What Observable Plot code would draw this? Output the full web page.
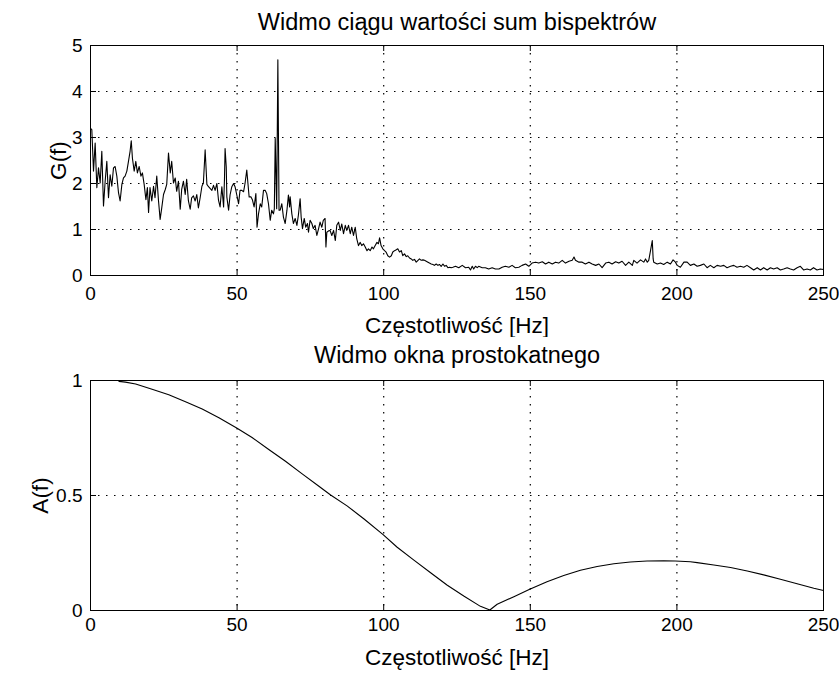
<!DOCTYPE html>
<html><head><meta charset="utf-8">
<script src="https://cdn.jsdelivr.net/npm/d3@7"></script>
<script src="https://cdn.jsdelivr.net/npm/@observablehq/plot@0.6"></script>
<style>
body{margin:0;background:#fff;}
#chart{position:relative;width:839px;height:675px;overflow:hidden;}
#chart svg{position:absolute;left:0;}
</style></head><body><div id="chart"></div>
<script>
// ---- data ----
const titleTop = "Widmo ciągu wartości sum bispektrów";
const titleBottom = "Widmo okna prostokatnego";
const xLabel = "Częstotliwość [Hz]";
const yLabelTop = "G(f)";
const yLabelBottom = "A(f)";

const xTicks = [0, 50, 100, 150, 200, 250];
const yTicksTop = [0, 1, 2, 3, 4, 5];
const yTicksBottom = [0, 0.5, 1];
const gridXValues = [50, 100, 150, 200];
const gridYTop = [1, 2, 3, 4];
const gridYBottom = [0.5];

const freqTop = [
0,0.45,1.02,1.59,2.16,2.73,3.3,3.86,4.43,5.0,5.57,6.14,6.7,7.27,7.84,8.4,8.98,9.55,10.1,10.7,
11.25,11.8,12.4,12.95,13.5,13.9,14.3,14.9,15.45,16.0,16.6,17.2,17.7,18.3,18.9,19.4,19.8,20.3,20.9,21.5,
22.0,22.6,23.2,23.75,24.3,24.9,25.5,26.0,26.6,27.2,27.7,28.3,28.9,29.4,30.0,30.6,31.1,31.7,32.3,32.8,
33.4,34.0,34.5,35.1,35.7,36.25,36.8,37.4,38.0,38.5,39.1,39.7,40.25,
41.4,41.95,42.5,43.1,43.65,44.2,44.8,45.4,45.7,45.9,46.3,46.5,47.1,47.6,48.2,48.8,49.3,49.9,50.5,51.0,
51.6,52.2,52.7,53.3,53.7,54.1,54.7,55.25,55.8,56.4,56.8,57.3,57.9,58.4,59.0,59.6,60.1,60.7,61.3,61.8,
62.4,62.7,63.0,63.5,63.9,64.3,64.7,65.25,65.8,66.4,67.0,67.5,67.9,68.1,68.67,69.2,69.8,70.4,70.9,71.5,
71.85,72.3,72.9,73.4,74.0,74.35,74.9,75.5,76.0,76.6,77.2,77.8,78.3,78.9,79.4,80.0,80.3,80.6,81.2,
81.7,82.3,82.9,83.5,84.0,84.6,85.2,85.7,86.3,86.9,87.4,88.0,88.6,89.1,89.7,90.3,90.8,91.4,92.0,92.5,
93.1,93.7,94.3,94.8,95.4,96.0,96.5,97.1,97.7,98.2,98.6,99.1,99.7,100.3,100.8,101.4,102.0,102.6,103.1,103.7,
104.3,104.8,105.4,106.0,106.5,107.1,107.7,108.2,108.8,109.4,109.9,110.5,111.1,111.7,112.2,112.8,113.4,113.9,114.5,115.1,
115.6,116.2,116.8,117.3,117.9,118.5,119.0,119.6,120.2,120.8,121.3,121.9,122.5,123.0,123.6,
124.5,125.6,126.8,127.9,129.0,129.6,130.2,130.7,131.3,131.9,132.4,133.6,134.7,135.8,137.0,138.1,139.3,140.4,141.5,142.7,
143.8,144.9,146.1,147.2,148.4,149.5,150.6,151.8,152.9,154.1,155.2,156.3,157.5,158.6,159.7,160.9,162.0,163.2,164.3,164.9,
165.4,166.6,167.7,168.8,170.0,171.1,172.3,173.4,174.5,175.7,176.8,177.9,179.1,180.2,181.3,182.5,183.6,184.8,
185.3,186.4,187.6,188.7,189.3,189.9,190.4,191.0,191.6,191.9,192.1,193.3,194.4,195.5,196.7,197.8,198.7,199.5,200.1,201.2,
202.4,203.5,204.6,205.8,206.9,208.0,209.2,210.3,211.4,212.6,213.7,214.9,216.0,217.1,218.3,219.4,220.5,221.7,222.8,223.9,
225.1,226.2,227.4,228.5,229.6,230.8,231.9,233.0,234.2,235.3,236.4,237.6,238.7,239.8,241.0,242.1,243.2,244.4,245.5,246.6,
247.8,248.9,250
];
const gTop = [
3.2,3.17,2.27,2.88,1.91,2.34,2.01,2.70,1.51,2.05,2.48,1.69,2.19,1.94,2.34,2.37,2.16,1.80,1.62,1.98,
2.12,2.16,2.27,2.48,2.70,2.93,2.55,2.27,2.48,2.23,2.37,2.16,2.23,1.98,1.65,1.91,1.37,1.91,1.62,1.94,
1.69,2.16,1.62,1.22,1.47,1.76,1.87,1.98,2.66,2.23,2.48,2.01,2.12,1.83,2.05,1.44,1.87,2.05,1.76,2.09,
1.62,1.44,1.69,1.73,1.62,1.76,1.47,1.69,1.94,2.01,2.73,1.98,1.93,
1.85,1.96,1.85,2.0,1.64,1.49,1.93,1.49,2.11,2.76,2.36,1.71,1.42,1.75,1.93,2.0,1.93,1.75,1.56,1.85,
1.85,1.82,2.0,2.29,2.0,1.71,1.71,1.64,1.49,1.78,1.05,1.34,1.56,1.49,1.85,1.85,1.78,1.56,1.2,1.42,
1.34,1.45,2.98,1.45,4.69,1.42,1.42,1.56,1.27,1.13,1.42,1.75,1.49,1.71,1.34,1.13,1.24,1.09,1.31,1.67,
1.27,1.02,1.24,1.05,1.13,0.94,1.2,1.13,1.02,1.09,0.87,1.02,1.16,1.05,1.2,1.24,0.62,0.94,0.97,
0.98,0.87,0.98,0.76,1.09,1.16,0.98,1.12,0.91,1.09,0.98,1.09,0.91,1.05,0.87,1.05,0.8,0.65,0.72,0.65,
0.69,0.62,0.54,0.58,0.54,0.62,0.58,0.65,0.72,0.69,0.82,0.65,0.58,0.54,0.51,0.43,0.40,0.43,0.51,0.54,
0.56,0.58,0.51,0.54,0.43,0.47,0.41,0.43,0.38,0.36,0.33,0.35,0.29,0.33,0.36,0.33,0.34,0.33,0.31,0.29,
0.27,0.25,0.24,0.22,0.25,0.22,0.24,0.20,0.25,0.2,0.22,0.17,0.18,0.17,0.18,
0.2,0.17,0.22,0.17,0.18,0.12,0.2,0.14,0.2,0.17,0.2,0.17,0.17,0.14,0.17,0.14,0.14,0.18,0.2,0.18,
0.22,0.17,0.18,0.22,0.25,0.2,0.27,0.29,0.27,0.30,0.25,0.29,0.25,0.29,0.27,0.33,0.27,0.31,0.33,0.40,
0.33,0.29,0.29,0.25,0.29,0.25,0.22,0.25,0.17,0.27,0.29,0.25,0.30,0.27,0.31,0.22,0.29,0.22,
0.33,0.27,0.34,0.29,0.36,0.29,0.33,0.54,0.76,0.36,0.29,0.25,0.27,0.24,0.29,0.25,0.34,0.29,0.22,0.18,
0.29,0.29,0.22,0.25,0.2,0.22,0.25,0.17,0.22,0.17,0.22,0.2,0.22,0.17,0.2,0.22,0.18,0.2,0.18,0.22,
0.17,0.12,0.17,0.12,0.17,0.12,0.17,0.14,0.17,0.12,0.14,0.17,0.14,0.12,0.17,0.2,0.12,0.14,0.12,0.17,
0.12,0.14,0.13
];

const freqBottom = [9.7,11.9,15.4,21.0,26.7,32.4,38.1,43.8,50.0,55.1,60.8,66.5,72.2,77.9,81.9,87.5,93.3,99.8,
104.6,110.3,116.0,121.7,127.3,133.0,136.2,138.7,144.4,149.8,155.7,161.4,167.1,172.8,178.5,184.1,189.8,195.5,
199.4,204.6,206.9,212.6,218.3,224.0,229.6,235.3,241.0,246.7,250];
const aBottom = [0.996,0.993,0.985,0.962,0.938,0.908,0.876,0.838,0.792,0.752,0.700,0.649,0.594,0.540,0.502,0.455,0.398,0.330,
0.275,0.219,0.164,0.110,0.063,0.018,0.002,0.027,0.060,0.092,0.125,0.152,0.175,0.191,0.203,0.211,0.215,0.216,
0.215,0.212,0.208,0.198,0.187,0.172,0.155,0.136,0.116,0.097,0.087];

// ---- drawing ----
const FONT = "'Liberation Sans', Arial, Helvetica, sans-serif";
const topRows = freqTop.map((f, i) => ({f, v: gTop[i]}));
const bottomRows = freqBottom.map((f, i) => ({f, v: aBottom[i]}));

function panel({rows, yDomain, yTicks, gridY, title, yLabel, height, marginTop, marginBottom, tickPad, titleDy, xLabelDy, yLabelDx}) {
  const marginLeft = 90, marginRight = 16, width = 839;
  const fw = width - marginLeft - marginRight;
  const fh = height - marginTop - marginBottom;
  const tick = 6;
  const dotted = {stroke: "#000", strokeWidth: 1.2, strokeDasharray: "1.5,6.5"};
  return Plot.plot({
    width, height, marginTop, marginBottom, marginLeft, marginRight,
    style: {fontFamily: FONT, fontSize: "19px", color: "#000", background: "transparent"},
    x: {domain: [0, 250], ticks: xTicks, tickSize: 0, tickPadding: tickPad, label: null, tickFormat: d => String(d)},
    y: {domain: yDomain, ticks: yTicks, tickSize: 0, tickPadding: 8, label: null, tickFormat: d => String(d)},
    marks: [
      Plot.ruleX(gridXValues, dotted),
      Plot.ruleY(gridY, dotted),
      Plot.line(rows, {x: "f", y: "v", stroke: "#000", strokeWidth: 1.1}),
      Plot.tickX(xTicks, {x: d => d, stroke: "#000", insetTop: fh - tick}),
      Plot.tickX(xTicks, {x: d => d, stroke: "#000", insetBottom: fh - tick}),
      Plot.tickY(yTicks, {y: d => d, stroke: "#000", insetRight: fw - tick}),
      Plot.tickY(yTicks, {y: d => d, stroke: "#000", insetLeft: fw - tick}),
      Plot.frame({stroke: "#000"}),
      Plot.text([title], {text: d => d, frameAnchor: "top", dy: titleDy, fontSize: 23.5, textAnchor: "middle", lineAnchor: "middle", fill: "#000"}),
      Plot.text([xLabel], {text: d => d, frameAnchor: "bottom", dy: xLabelDy, fontSize: 22.5, textAnchor: "middle", lineAnchor: "middle", fill: "#000"}),
      Plot.text([yLabel], {text: d => d, frameAnchor: "left", dx: yLabelDx, rotate: -90, fontSize: 22.5, textAnchor: "middle", lineAnchor: "middle", fill: "#000"})
    ]
  });
}

const chart = document.getElementById("chart");
const p1 = panel({rows: topRows, yDomain: [0, 5], yTicks: yTicksTop, gridY: gridYTop, title: titleTop, yLabel: yLabelTop,
  height: 337, marginTop: 45, marginBottom: 62, tickPad: 11, titleDy: -23, xLabelDy: 50, yLabelDx: -32});
p1.style.top = "0px";
chart.appendChild(p1);
const p2 = panel({rows: bottomRows, yDomain: [0, 1], yTicks: yTicksBottom, gridY: gridYBottom, title: titleBottom, yLabel: yLabelBottom,
  height: 338, marginTop: 43, marginBottom: 65, tickPad: 7, titleDy: -25, xLabelDy: 47, yLabelDx: -50});
p2.style.top = "337px";
chart.appendChild(p2);
</script></body></html>
